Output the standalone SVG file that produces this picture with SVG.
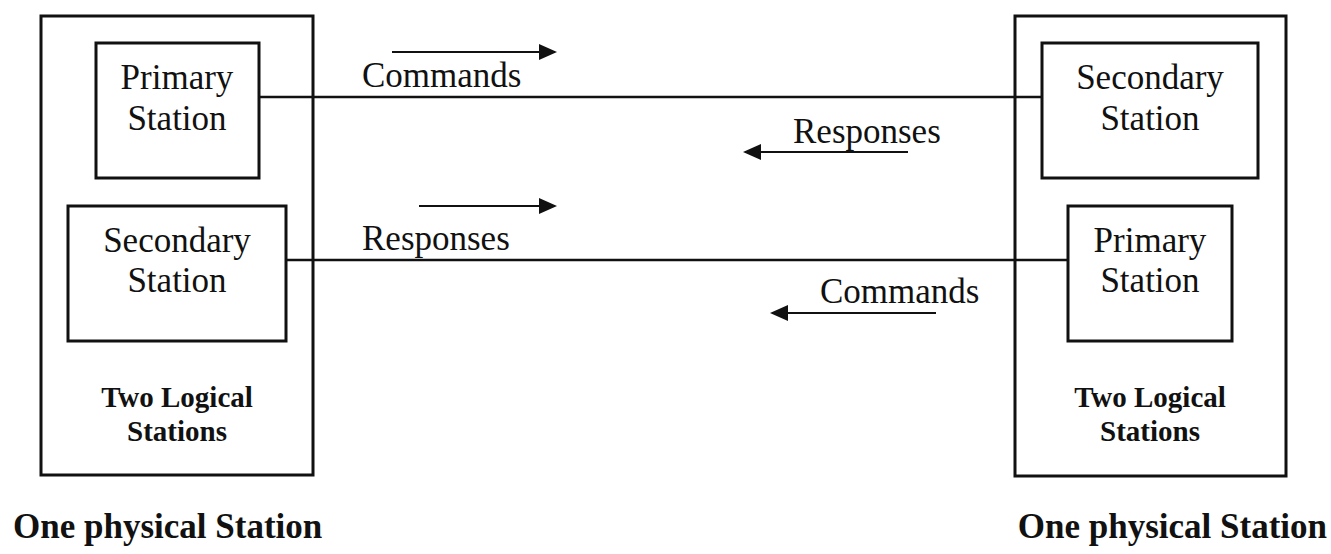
<svg xmlns="http://www.w3.org/2000/svg" width="1331" height="554" viewBox="0 0 1331 554">
<style>
.box{fill:none;stroke:#111;stroke-width:3}
.inner{fill:#fff;stroke:#111;stroke-width:3}
.lbl{font-family:"Liberation Serif","Times New Roman",serif;font-size:35px;fill:#111;text-anchor:middle}
.lblL{font-family:"Liberation Serif","Times New Roman",serif;font-size:35px;fill:#111}
.bold{font-family:"Liberation Serif","Times New Roman",serif;font-size:29px;font-weight:bold;fill:#111;text-anchor:middle}
.phys{font-family:"Liberation Serif","Times New Roman",serif;font-size:35px;font-weight:bold;fill:#111}
.wire{stroke:#111;stroke-width:2.5;fill:none}
.arr{stroke:#111;stroke-width:2.2;fill:none;marker-end:url(#ah)}
</style>
<defs>
<marker id="ah" markerWidth="18" markerHeight="16" refX="16" refY="8" orient="auto" markerUnits="userSpaceOnUse">
<path d="M0,0 L18,8 L0,16 Z" fill="#111"/>
</marker>
</defs>
<rect width="1331" height="554" fill="#fff"/>
<g id="connectors">
<line class="wire" x1="259" y1="97" x2="1042" y2="97"/>
<line class="wire" x1="286" y1="260" x2="1068" y2="260"/>
<line class="arr" x1="392" y1="52" x2="555" y2="52"/>
<line class="arr" x1="419" y1="206" x2="555" y2="206"/>
<line class="arr" x1="908" y1="152" x2="745" y2="152"/>
<line class="arr" x1="936" y1="313" x2="772" y2="313"/>
<text class="lblL" x="362" y="87">Commands</text>
<text class="lblL" x="362" y="250">Responses</text>
<text class="lblL" x="793" y="143">Responses</text>
<text class="lblL" x="820" y="303">Commands</text>
</g>
<g id="left-physical">
<rect class="box" x="41" y="16" width="272" height="459"/>
<text class="bold" x="177" y="407">Two Logical</text>
<text class="bold" x="177" y="441">Stations</text>
<text class="phys" x="13" y="538">One physical Station</text>
</g>
<g id="left-primary">
<rect class="inner" x="96" y="43" width="163" height="135"/>
<text class="lbl" x="177" y="89">Primary</text>
<text class="lbl" x="177" y="130">Station</text>
</g>
<g id="left-secondary">
<rect class="inner" x="68" y="206" width="218" height="135"/>
<text class="lbl" x="177" y="252">Secondary</text>
<text class="lbl" x="177" y="292">Station</text>
</g>
<g id="right-physical">
<rect class="box" x="1015" y="16" width="271" height="460"/>
<text class="bold" x="1150" y="407">Two Logical</text>
<text class="bold" x="1150" y="441">Stations</text>
<text class="phys" x="1327" y="538" text-anchor="end">One physical Station</text>
</g>
<g id="right-secondary">
<rect class="inner" x="1042" y="43" width="216" height="135"/>
<text class="lbl" x="1150" y="89">Secondary</text>
<text class="lbl" x="1150" y="130">Station</text>
</g>
<g id="right-primary">
<rect class="inner" x="1068" y="206" width="164" height="135"/>
<text class="lbl" x="1150" y="252">Primary</text>
<text class="lbl" x="1150" y="292">Station</text>
</g>
</svg>
